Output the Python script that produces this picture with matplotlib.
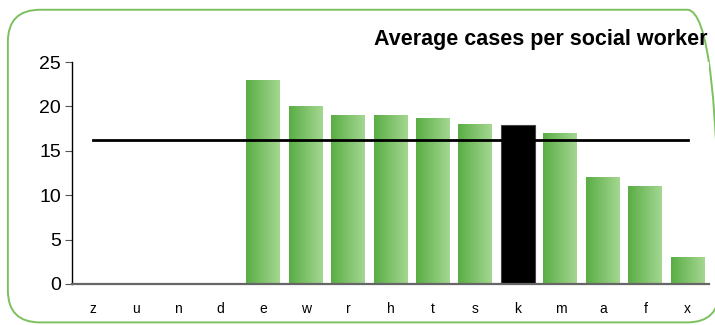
import numpy as np
import matplotlib
matplotlib.use("Agg")
import matplotlib.pyplot as plt
from matplotlib.patches import FancyBboxPatch
from matplotlib.colors import LinearSegmentedColormap

plt.rcParams["font.family"] = ["Liberation Sans", "DejaVu Sans"]

categories = ["z", "u", "n", "d", "e", "w", "r", "h", "t", "s", "k", "m", "a", "f", "x"]
values = [0, 0, 0, 0, 23, 20, 19, 19, 18.7, 18, 17.9, 17, 12, 11, 3]
highlight = "k"
average = 16.2
title = "Average cases per social worker"


def main():
    fig = plt.figure(figsize=(7.15, 3.25), dpi=100)
    ax = fig.add_axes([0.1007, 0.1262, 0.8909, 0.683])

    # rounded green frame around the whole chart (right side runs off the image)
    frame = FancyBboxPatch((0.011, 0.008), 0.995, 0.962,
                           boxstyle="round,pad=0,rounding_size=0.045",
                           transform=fig.transFigure, facecolor="none",
                           edgecolor="#7cc15e", linewidth=1.4, zorder=-1,
                           mutation_aspect=2.2)
    fig.patches.append(frame)

    x = np.arange(len(categories))
    bars = ax.bar(x, values, width=0.8, color="none", edgecolor="none")

    green = LinearSegmentedColormap.from_list("g", ["#58ac43", "#a6d893"])
    grad = np.linspace(0, 1, 64).reshape(1, -1)
    for cat, b in zip(categories, bars):
        if b.get_height() <= 0:
            continue
        x0, w, h = b.get_x(), b.get_width(), b.get_height()
        if cat == highlight:
            b.set_facecolor("black")
            b.set_edgecolor("#444444")
            b.set_linewidth(0.8)
            b.set_zorder(2)
        else:
            im = ax.imshow(grad, cmap=green, aspect="auto",
                           extent=(x0 - 0.02, x0 + w + 0.02, -0.5, h + 0.5),
                           zorder=2, interpolation="bilinear")
            im.set_clip_path(b)

    ax.plot([x[0], x[-1]], [average, average], color="black", linewidth=2, zorder=4)

    ax.set_xlim(-0.5, len(categories) - 0.5)
    ax.set_ylim(0, 25)
    ax.set_yticks([0, 5, 10, 15, 20, 25])
    ax.set_xticks(x)
    ax.set_xticklabels(categories, fontsize=10)
    ax.tick_params(axis="x", length=0, pad=13)
    ax.tick_params(axis="y", labelsize=14, length=5, color="#555555", pad=3)

    for side in ("top", "right"):
        ax.spines[side].set_visible(False)
    ax.spines["left"].set_color("black")
    ax.spines["left"].set_linewidth(1.0)
    ax.spines["bottom"].set_color("#666666")
    ax.spines["bottom"].set_linewidth(1.6)
    ax.spines["bottom"].set_zorder(5)

    fig.text(0.99, 0.878, title, ha="right", va="center",
             fontsize=15.5, fontweight="bold")

    fig.savefig("out.png", dpi=100)
    plt.close(fig)


if __name__ == "__main__":
    main()
